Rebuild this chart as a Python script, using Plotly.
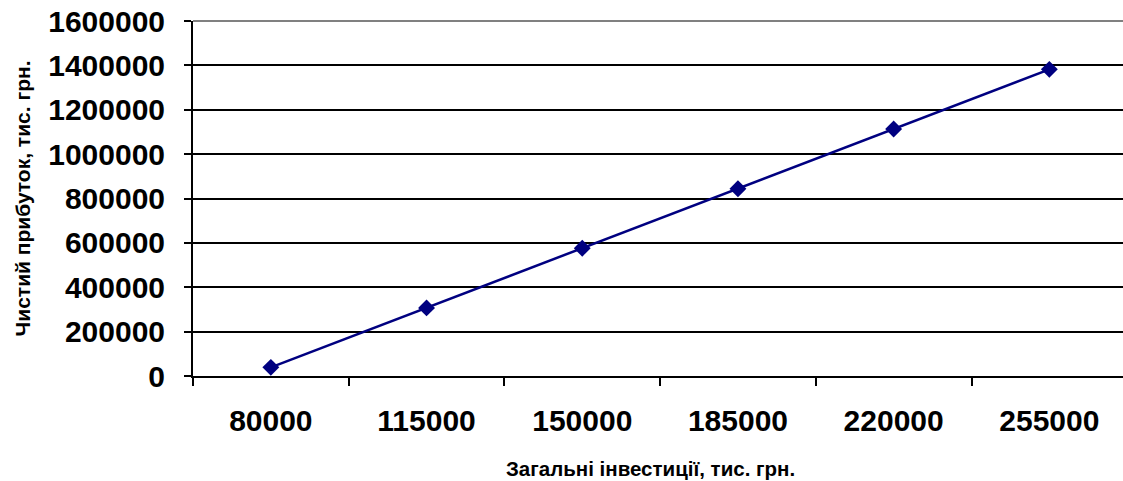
import plotly.graph_objects as go

# Total investments (category labels) and net profit, thousand UAH
investments = ["80000", "115000", "150000", "185000", "220000", "255000"]
net_profit = [39000, 307000, 576000, 844000, 1113000, 1382000]

y_ticks = [0, 200000, 400000, 600000, 800000, 1000000, 1200000, 1400000, 1600000]
y_tick_text = [str(v) for v in y_ticks]

FONT = "Arial, Liberation Sans, sans-serif"
NAVY = "#000080"

fig = go.Figure(
    go.Scatter(
        x=investments,
        y=net_profit,
        mode="lines+markers",
        line=dict(color=NAVY, width=2.5),
        marker=dict(symbol="diamond", size=13, color=NAVY),
        showlegend=False,
        cliponaxis=False,
    )
)

fig.update_layout(
    width=1123,
    height=481,
    margin=dict(l=193, r=0, t=21, b=105),
    paper_bgcolor="white",
    plot_bgcolor="white",
    font=dict(family=FONT, color="black"),
    xaxis=dict(
        type="category",
        range=[-0.5, 5.473],
        tickson="boundaries",
        ticks="outside",
        ticklen=8,
        tickwidth=2,
        tickcolor="black",
        showline=True,
        linecolor="black",
        linewidth=2,
        showgrid=False,
        ticklabelstandoff=17,
        tickfont=dict(family=FONT, size=30, weight="bold"),
        zeroline=False,
    ),
    yaxis=dict(
        range=[0, 1600000],
        tickmode="array",
        tickvals=y_ticks,
        ticktext=y_tick_text,
        ticks="outside",
        ticklen=7,
        tickwidth=2,
        tickcolor="black",
        showline=True,
        linecolor="black",
        linewidth=2,
        showgrid=True,
        gridcolor="black",
        gridwidth=2,
        zeroline=False,
        ticklabelstandoff=13,
        tickfont=dict(family=FONT, size=30, weight="bold"),
    ),
    annotations=[
        dict(
            text="Чистий прибуток, тис. грн.",
            xref="paper", yref="paper",
            x=0, y=0.5,
            xanchor="center", yanchor="middle",
            xshift=-171,
            textangle=-90,
            showarrow=False,
            font=dict(family=FONT, size=21, weight="bold"),
        ),
        dict(
            text="Загальні інвестиції, тис. грн.",
            xref="paper", yref="paper",
            x=(650 - 193) / 930, y=0,
            xanchor="center", yanchor="top",
            yshift=-79,
            showarrow=False,
            font=dict(family=FONT, size=20.5, weight="bold"),
        ),
    ],
    shapes=[
        dict(
            type="line", xref="paper", yref="paper",
            x0=0, x1=1, y0=1, y1=1,
            line=dict(color="#808080", width=2),
        )
    ],
)

fig.write_html("out.html")
